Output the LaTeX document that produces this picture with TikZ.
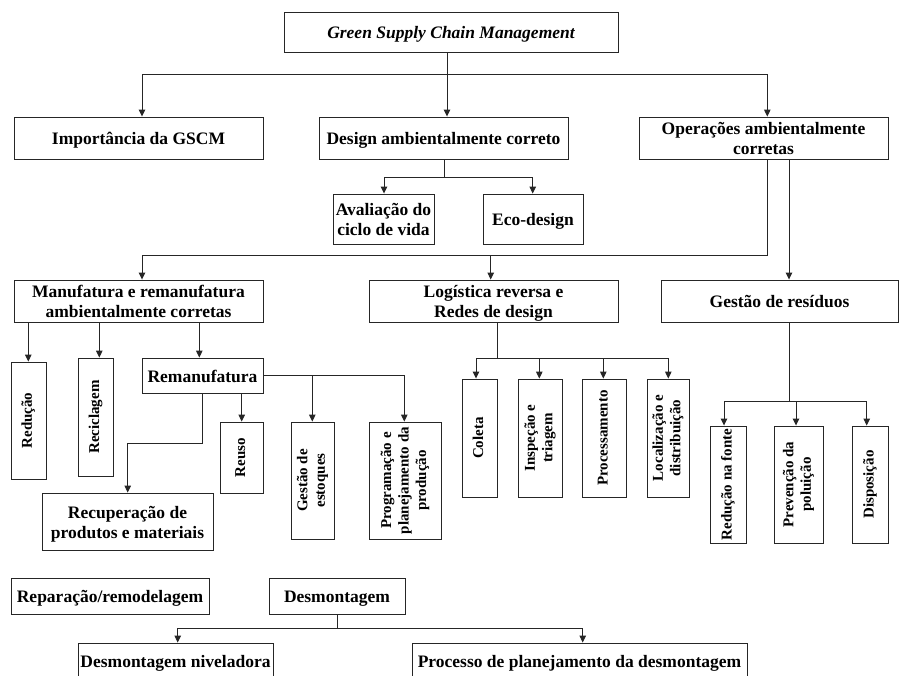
\documentclass[tikz,border=0pt]{standalone}
\usepackage{fontspec}
\setmainfont{Liberation Serif}
\usetikzlibrary{arrows.meta}
\newcommand\vt[1]{\rotatebox{90}{\begin{tabular}{@{}c@{}}#1\end{tabular}}}
\newcommand\hx[1]{\raisebox{-2.5pt}[\height][\depth]{\begin{tabular}{@{}c@{}}#1\end{tabular}}}
\begin{document}
\begin{tikzpicture}[x=1pt,y=-1pt,
 box/.style={draw=black!85, line width=0.9pt, inner sep=0pt, align=center, font=\fontsize{17.5}{20}\selectfont\bfseries},
 vbox/.style={draw=black!85, line width=0.9pt, inner sep=0pt, font=\fontsize{15}{17.5}\selectfont\bfseries},
 conn/.style={line width=1pt, draw=black!85},
 arr/.style={conn, -{Triangle[length=7pt,width=6.5pt]}},
]
\useasboundingbox (0,0) rectangle (899,675);
\fill[white] (0,0) rectangle (899,675);

% level 0-1
\node[box, minimum width=334pt, minimum height=40pt, font=\fontsize{17.5}{20}\selectfont\bfseries\itshape] (gscm) at (451,32) {\hx{Green Supply Chain Management}};
\node[box, minimum width=249pt, minimum height=42pt] (imp) at (138.5,138) {\hx{Importância da GSCM}};
\node[box, minimum width=249pt, minimum height=42pt] (des) at (443.5,138) {\hx{Design ambientalmente correto}};
\node[box, minimum width=249pt, minimum height=42pt] (ops) at (763.5,138) {\hx{Operações ambientalmente\\corretas}};
\node[box, minimum width=101pt, minimum height=50pt] (aval) at (383.5,219) {\hx{Avaliação do\\ciclo de vida}};
\node[box, minimum width=100pt, minimum height=50pt] (eco) at (533,219) {\hx{Eco-design}};

% level 2
\node[box, minimum width=249pt, minimum height=42pt] (manu) at (138.5,301) {\hx{Manufatura e remanufatura\\ambientalmente corretas}};
\node[box, minimum width=249pt, minimum height=42pt] (log) at (493.5,301) {\hx{Logística reversa e\\Redes de design}};
\node[box, minimum width=237pt, minimum height=42pt] (ges) at (779.5,301) {\hx{Gestão de resíduos}};

% manufatura children
\node[vbox, minimum width=35pt, minimum height=117pt] (red) at (28.5,420.5) {\vt{Redução}};
\node[vbox, minimum width=35pt, minimum height=118pt] (rec) at (95.5,417) {\vt{Reciclagem}};
\node[box, minimum width=121pt, minimum height=35pt] (rem) at (202.5,375.5) {\hx{Remanufatura}};
\node[vbox, minimum width=43pt, minimum height=71pt] (reuso) at (241.5,457.5) {\vt{Reuso}};
\node[vbox, minimum width=43pt, minimum height=117pt] (gest) at (312.5,480.5) {\vt{Gestão de\\estoques}};
\node[vbox, minimum width=72pt, minimum height=117pt] (prog) at (405,480.5) {\vt{Programação e\\planejamento da\\produção}};
\node[box, minimum width=171pt, minimum height=57pt] (recup) at (127.5,521.5) {\hx{Recuperação de\\produtos e materiais}};

% logistica children
\node[vbox, minimum width=35pt, minimum height=118pt] (col) at (479.5,438) {\vt{Coleta}};
\node[vbox, minimum width=44pt, minimum height=118pt] (insp) at (540,438) {\vt{Inspeção e\\triagem}};
\node[vbox, minimum width=44pt, minimum height=118pt] (proc) at (604,438) {\vt{Processamento}};
\node[vbox, minimum width=42pt, minimum height=118pt] (loc) at (668,438) {\vt{Localização e\\distribuição}};

% gestao de residuos children
\node[vbox, minimum width=36pt, minimum height=117pt] (rnf) at (728,484.5) {\vt{Redução na fonte}};
\node[vbox, minimum width=49pt, minimum height=117pt] (prev) at (798.5,484.5) {\vt{Prevenção da\\poluição}};
\node[vbox, minimum width=36pt, minimum height=117pt] (disp) at (870,484.5) {\vt{Disposição}};

% bottom
\node[box, minimum width=198pt, minimum height=36pt] (repar) at (110,596) {\hx{Reparação/remodelagem}};
\node[box, minimum width=136pt, minimum height=36pt] (desm) at (337,596) {\hx{Desmontagem}};
\node[box, minimum width=195pt, minimum height=36pt] (niv) at (175.5,661) {\hx{Desmontagem niveladora}};
\node[box, minimum width=335pt, minimum height=36pt] (procd) at (579.5,661) {\hx{Processo de planejamento da desmontagem}};

% helper coordinates
\coordinate (j1) at (447,74);
\coordinate (ja) at (142,74);
\coordinate (jb) at (767.3,74);
\coordinate (jd) at (444.3,177.3);
\coordinate (jd1) at (384,177.3);
\coordinate (jd2) at (532.7,177.3);
\coordinate (jo) at (767.5,255);
\coordinate (jm) at (142,255);
\coordinate (jl) at (490.7,255);
\coordinate (jg) at (789,255);
\coordinate (m1) at (28.3,340);
\coordinate (m2) at (99.3,340);
\coordinate (m3) at (199.3,340);
\coordinate (r1) at (241.7,400);
\coordinate (r2) at (202.3,443.3);
\coordinate (r3) at (127.7,443.3);
\coordinate (r4) at (312.3,375.5);
\coordinate (r5) at (404.3,375.5);
\coordinate (l0) at (497.3,358.3);
\coordinate (l1) at (476,358.3);
\coordinate (l2) at (539.3,358.3);
\coordinate (l3) at (603.3,358.3);
\coordinate (l4) at (668.3,358.3);
\coordinate (g0) at (789,401);
\coordinate (g1) at (724,401);
\coordinate (g2) at (796,401);
\coordinate (g3) at (866.7,401);
\coordinate (d0) at (337.3,628.3);
\coordinate (d1) at (177.7,628.3);
\coordinate (d2) at (582.7,628.3);

% connectors
\draw[arr] (gscm.south -| j1) -- (des.north -| j1);
\draw[arr] (j1) -- (ja) -- (ja |- imp.north);
\draw[arr] (j1) -- (jb) -- (jb |- ops.north);

\draw[conn] (des.south -| jd) -- (jd);
\draw[arr] (jd) -- (jd1) -- (jd1 |- aval.north);
\draw[arr] (jd) -- (jd2) -- (jd2 |- eco.north);

\draw[arr] (ops.south -| jo) -- (jo) -- (jm) -- (jm |- manu.north);
\draw[arr] (jl) -- (jl |- log.north);
\draw[arr] (ops.south -| jg) -- (ges.north -| jg);

\draw[arr] (manu.south -| m1) -- (red.north -| m1);
\draw[arr] (manu.south -| m2) -- (rec.north -| m2);
\draw[arr] (manu.south -| m3) -- (rem.north -| m3);

\draw[arr] (rem.south -| r1) -- (reuso.north -| r1);
\draw[arr] (rem.south -| r2) -- (r2) -- (r3) -- (r3 |- recup.north);
\draw[arr] (rem.east) -- (r5) -- (r5 |- prog.north);
\draw[arr] (r4) -- (r4 |- gest.north);

\draw[conn] (log.south -| l0) -- (l0);
\draw[arr] (l0) -- (l1) -- (l1 |- col.north);
\draw[arr] (l0) -- (l4) -- (l4 |- loc.north);
\draw[arr] (l2) -- (l2 |- insp.north);
\draw[arr] (l3) -- (l3 |- proc.north);

\draw[conn] (ges.south -| g0) -- (g0);
\draw[arr] (g0) -- (g1) -- (g1 |- rnf.north);
\draw[arr] (g0) -- (g3) -- (g3 |- disp.north);
\draw[arr] (g2) -- (g2 |- prev.north);

\draw[conn] (desm.south -| d0) -- (d0);
\draw[arr] (d0) -- (d1) -- (d1 |- niv.north);
\draw[arr] (d0) -- (d2) -- (d2 |- procd.north);
\end{tikzpicture}
\end{document}
